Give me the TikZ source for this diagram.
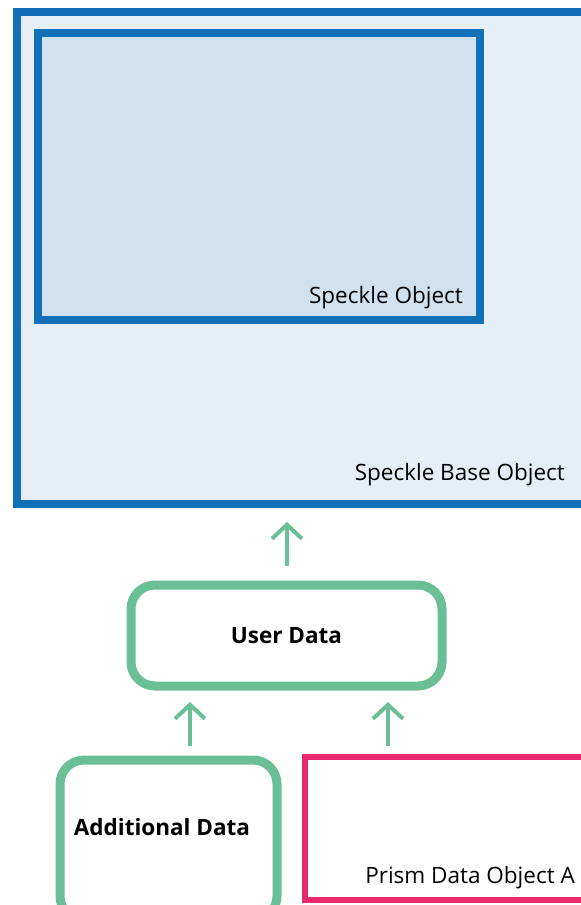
\documentclass[tikz,border=0pt]{standalone}
\usepackage{fontspec}
\setmainfont{Open Sans}
\usetikzlibrary{arrows.meta}
\definecolor{sblue}{HTML}{1170B8}
\definecolor{outerfill}{HTML}{E6EEF8}
\definecolor{innerfill}{HTML}{D0E2F0}
\definecolor{sgreen}{HTML}{6ABF97}
\definecolor{spink}{HTML}{E8296D}
\tikzset{
  bluebox/.style={draw=sblue, line width=8pt},
  greenbox/.style={draw=sgreen, line width=9pt, rounded corners=24pt, fill=white},
  pinkbox/.style={draw=spink, line width=6pt, fill=white},
  lbl/.style={font=\fontsize{22.5}{26}\selectfont, inner sep=0pt},
  blbl/.style={font=\fontsize{22.5}{26}\selectfont\bfseries, inner sep=0pt},
  uparrow/.style={draw=sgreen, line width=4pt, -{Straight Barb[length=14pt, width=30pt, line width=4pt]}}
}
\begin{document}
\begin{tikzpicture}[x=1pt, y=-1pt]
\useasboundingbox (0,0) rectangle (581,905);
\clip (0,0) rectangle (581,905);
% outer
\draw[bluebox, fill=outerfill] (17,12) rectangle (620,504);
\node[lbl, anchor=base east] (sbo) at (565,480) {Speckle Base Object};
% inner
\draw[bluebox, fill=innerfill] (38,33) rectangle (480,320);
\node[lbl, anchor=base east] (so) at (463,303) {Speckle Object};
% user data
\node[greenbox, minimum width=311pt, minimum height=101pt] (user) at (286.5,635.5) {};
\node[blbl] at (user.center) {User Data};
% additional
\node[greenbox, minimum width=217pt, minimum height=160pt] (add) at (168.5,840) {};
\node[blbl] at (162,827) {Additional Data};
% prism
\draw[pinkbox] (305,757) rectangle (620,900);
\node[lbl, anchor=base east] (prism) at (575,883) {Prism Data Object A};
% arrows
\coordinate (a1s) at (287,566);
\coordinate (a1e) at (287,522);
\draw[uparrow] (a1s) -- (a1e);
\coordinate (a2s) at (190,746);
\coordinate (a2e) at (190,702);
\draw[uparrow] (a2s) -- (a2e);
\coordinate (a3s) at (388,746);
\coordinate (a3e) at (388,702);
\draw[uparrow] (a3s) -- (a3e);
\end{tikzpicture}
\end{document}
